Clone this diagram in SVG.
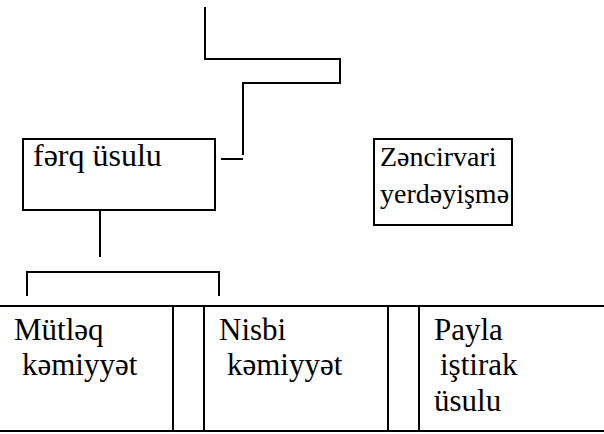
<svg xmlns="http://www.w3.org/2000/svg" width="604" height="434" viewBox="0 0 604 434">
  <style>
    .ln { fill: none; stroke: #000; stroke-width: 2; }
    .box { fill: #fff; stroke: #000; stroke-width: 2; }
    .t { font-family: 'Liberation Serif', serif; font-size: 31px; fill: #000; }
    .big { font-size: 32px; }
    .small { font-size: 28px; }
  </style>
  <rect width="604" height="434" fill="#fff"/>

  <!-- stepped feed line, stub and the bracket over the table -->
  <g id="connectors">
    <polyline class="ln" points="205,7 205,59 340,59 340,83 243,83 243,155"/>
    <line class="ln" x1="221" y1="159" x2="243" y2="159"/>
    <line class="ln" x1="100" y1="210" x2="100" y2="257"/>
    <polyline class="ln" points="27,296 27,272 219,272 219,296"/>
  </g>

  <g id="ferq-usulu" font-family="'Liberation Serif', serif">
    <rect class="box" x="23" y="139" width="192" height="71"/>
    <text class="t big" x="33" y="166">fərq üsulu</text>
  </g>

  <g id="zencirvari" font-family="'Liberation Serif', serif">
    <rect class="box" x="374" y="139" width="138" height="86"/>
    <text class="t small" x="380" y="166">Zəncirvari</text>
    <text class="t small" x="380" y="203">yerdəyişmə</text>
  </g>

  <!-- three-column table -->
  <g id="table">
    <line class="ln" x1="0" y1="306" x2="604" y2="306"/>
    <line class="ln" x1="0" y1="431" x2="604" y2="431"/>
    <line class="ln" x1="173" y1="306" x2="173" y2="431"/>
    <line class="ln" x1="204" y1="306" x2="204" y2="431"/>
    <line class="ln" x1="388" y1="306" x2="388" y2="431"/>
    <line class="ln" x1="419" y1="306" x2="419" y2="431"/>
  </g>

  <g id="mutleq" font-family="'Liberation Serif', serif">
    <text class="t" x="14" y="340">Mütləq</text>
    <text class="t" x="22" y="375">kəmiyyət</text>
  </g>
  <g id="nisbi" font-family="'Liberation Serif', serif">
    <text class="t" x="219" y="340">Nisbi</text>
    <text class="t" x="227" y="375">kəmiyyət</text>
  </g>
  <g id="payla" font-family="'Liberation Serif', serif">
    <text class="t" x="434" y="340">Payla</text>
    <text class="t" x="440" y="375">iştirak</text>
    <text class="t" x="434" y="411">üsulu</text>
  </g>
</svg>
